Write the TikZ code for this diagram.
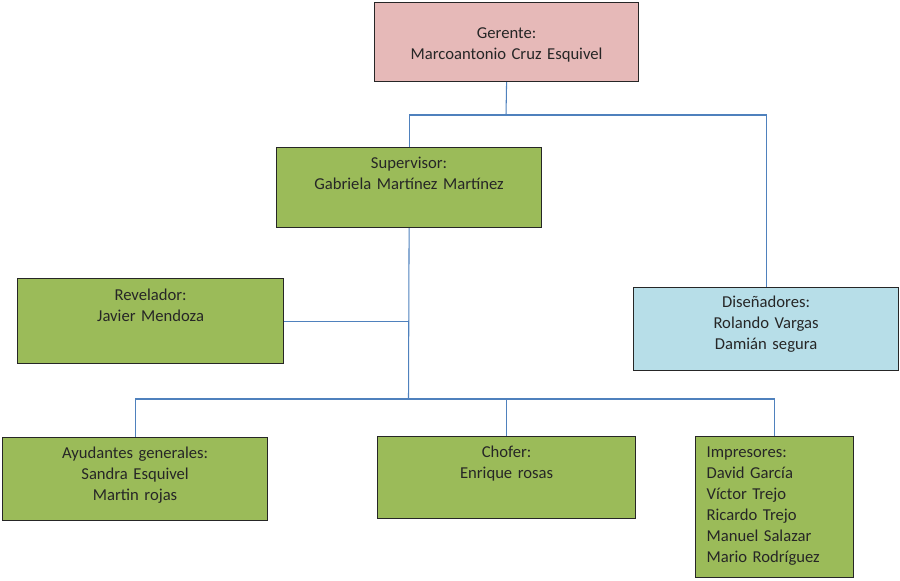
\documentclass[tikz,border=0pt]{standalone}
\usepackage{fontspec}
\setmainfont{Carlito}
\definecolor{gerfill}{HTML}{E6B9B8}
\definecolor{grnfill}{HTML}{9BBB59}
\definecolor{disfill}{HTML}{B7DEE8}
\definecolor{linkblue}{HTML}{4F81BD}
\tikzset{
  box/.style={rectangle,draw=black!85,line width=1pt,inner sep=0pt,anchor=north west,
    align=center,text=black!85,font=\fontsize{14.2}{17.9}\selectfont},
  link/.style={draw=linkblue,line width=0.9pt}
}
\begin{document}
\begin{tikzpicture}[x=0.03cm,y=-0.03cm]
\useasboundingbox (0,0) rectangle (900,580);
\node (ger) at (374,2) [box,fill=gerfill,text width=7.92cm,text height=1.08cm,text depth=1.29cm] {Gerente:\\Marcoantonio Cruz Esquivel};
\node (sup) at (276,147) [box,fill=grnfill,text width=7.95cm,text height=0.63cm,text depth=1.77cm] {Supervisor:\\Gabriela Martínez Martínez};
\node (rev) at (17,278) [box,fill=grnfill,text width=7.98cm,text height=0.66cm,text depth=1.89cm] {Revelador:\\Javier Mendoza};
\node (dis) at (633,287) [box,fill=disfill,text width=7.95cm,text height=0.60cm,text depth=1.89cm] {Diseñadores:\\Rolando Vargas\\Damián segura};
\node (ayu) at (2,437) [box,fill=grnfill,text width=7.95cm,text height=0.63cm,text depth=1.86cm] {Ayudantes generales:\\Sandra Esquivel\\Martin rojas};
\node (cho) at (377,436) [box,fill=grnfill,text width=7.74cm,text height=0.63cm,text depth=1.83cm] {Chofer:\\Enrique rosas};
\node (imp) at (695,436) [box,fill=grnfill,align=left,inner xsep=0.33cm,text width=4.08cm,text height=0.63cm,text depth=3.60cm] {Impresores:\\David García\\Víctor Trejo\\Ricardo Trejo\\Manuel Salazar\\Mario Rodríguez};
\coordinate (j1) at (506,115);
\coordinate (j2) at (408.5,399);
\draw[link] (ger.south) -- (j1);
\draw[link] (j1) -| (sup.north);
\draw[link] (j1) -| (dis.north);
\draw[link] (sup.south) -- (j2);
\draw[link] (rev.east) -- (rev.east -| sup.south);
\draw[link] (j2) -| (ayu.north);
\draw[link] (j2) -| (cho.north);
\draw[link] (j2) -| (imp.north);
\end{tikzpicture}
\end{document}
